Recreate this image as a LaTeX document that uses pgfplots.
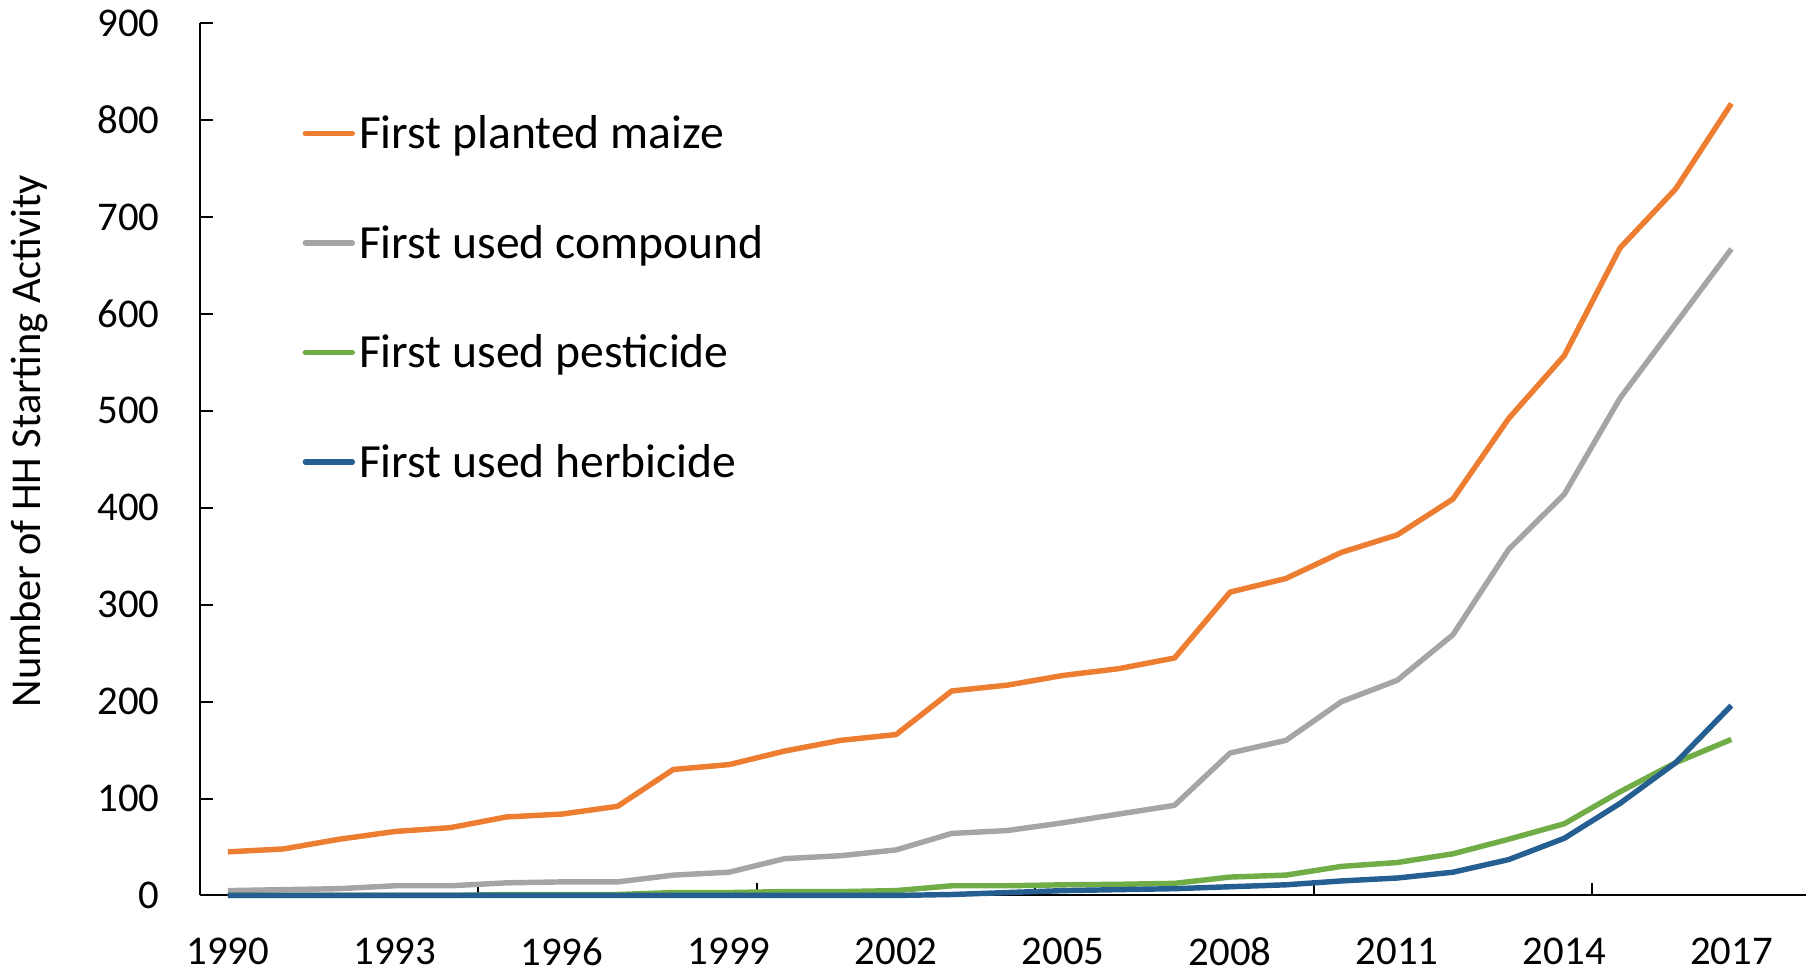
\documentclass[border=0pt]{standalone}
\usepackage{fontspec}
\setmainfont{Carlito}
\usepackage{pgfplots}
\usepackage{pgfplotstable}
\pgfplotsset{compat=1.18}
\usetikzlibrary{calc}

\definecolor{maize}{HTML}{ED7D31}
\definecolor{compound}{HTML}{A5A5A5}
\definecolor{pesticide}{HTML}{70AD47}
\definecolor{herbicide}{HTML}{255E91}

% households starting each activity, by year
\pgfplotstableread{
year maize compound pesticide herbicide
1990 45  5   0    0
1991 48  6   0    0
1992 58  7   0    0
1993 66  10  0    0
1994 70  10  0    0
1995 81  13  1    0
1996 84  14  1    0
1997 92  14  1    0
1998 130 21  3    0
1999 135 24  3    0
2000 149 38  4    0
2001 160 41  4    0
2002 166 47  5    0
2003 211 64  10   1
2004 217 67  10   3
2005 227 75  11   5
2006 234 84  11.5 6
2007 245 93  12.5 7
2008 313 147 19   9
2009 327 160 21   11
2010 354 200 30   15
2011 372 222 34   18
2012 409 269 43   24
2013 492 357 58   37
2014 557 414 74   59
2015 668 513 107  95
2016 729 590 137  137
2017 817 667 161  196
}\hhdata

\begin{document}
\begin{tikzpicture}
\begin{axis}[
  name=ax,
  scale only axis,
  width=472.2pt,
  height=256.5pt,
  xmin=1989.5, xmax=2018.34,
  ymin=0, ymax=900,
  axis lines*=left,
  axis line style={black, line width=0.6pt},
  tick align=inside,
  major tick length=3.8pt,
  tick style={black, line width=0.6pt},
  ytick={0,100,...,900},
  xtick={1994.5,1999.5,2004.5,2009.5,2014.5},
  xticklabels={},
  extra x ticks={1990,1993,1996,1999,2002,2005,2008,2011,2014,2017},
  extra x tick labels={1990,1993,1996,1999,2002,2005,2008,2011,2014,2017},
  extra x tick style={major tick length=0pt},
  ticklabel style={font=\fontsize{12}{14}\selectfont},
  /pgf/number format/assume math mode=true,
  /pgf/number format/1000 sep={},
  xticklabel style={yshift=-9pt},
  yticklabel style={xshift=-8.4pt},
  ylabel={Number of HH Starting Activity},
  every axis y label/.style={at={(axis description cs:-0.1065,0.5207)},
    rotate=90, anchor=center, font=\fontsize{12.5}{14}\selectfont},
  clip=false,
  legend cell align=left,
  legend image code/.code={%
    \draw[#1, line cap=round] (0pt,0pt) -- (13.8pt,0pt);},
  legend style={
    at={(axis description cs:0.0635,0.8998)}, anchor=north west,
    draw=none, fill=none, inner xsep=0pt, inner ysep=0pt,
    font=\fontsize{14}{16}\selectfont,
    row sep=19.2pt, column sep=1.2pt,
    nodes={inner sep=0pt, text height=11pt, text depth=2pt},
  },
  every axis plot/.append style={line width=1.6pt, line join=round},
]
\addplot[maize] table[x=year, y=maize] {\hhdata};
\addlegendentry{First planted maize}
\addplot[compound] table[x=year, y=compound] {\hhdata};
\addlegendentry{First used compound}
\addplot[pesticide] table[x=year, y=pesticide] {\hhdata};
\addlegendentry{First used pesticide}
\addplot[herbicide] table[x=year, y=herbicide] {\hhdata};
\addlegendentry{First used herbicide}
\end{axis}
\pgfresetboundingbox
\path ($(ax.south west)+(-58.8pt,-22.4pt)$) rectangle ($(ax.north east)+(0pt,6.8pt)$);
\end{tikzpicture}
\end{document}
